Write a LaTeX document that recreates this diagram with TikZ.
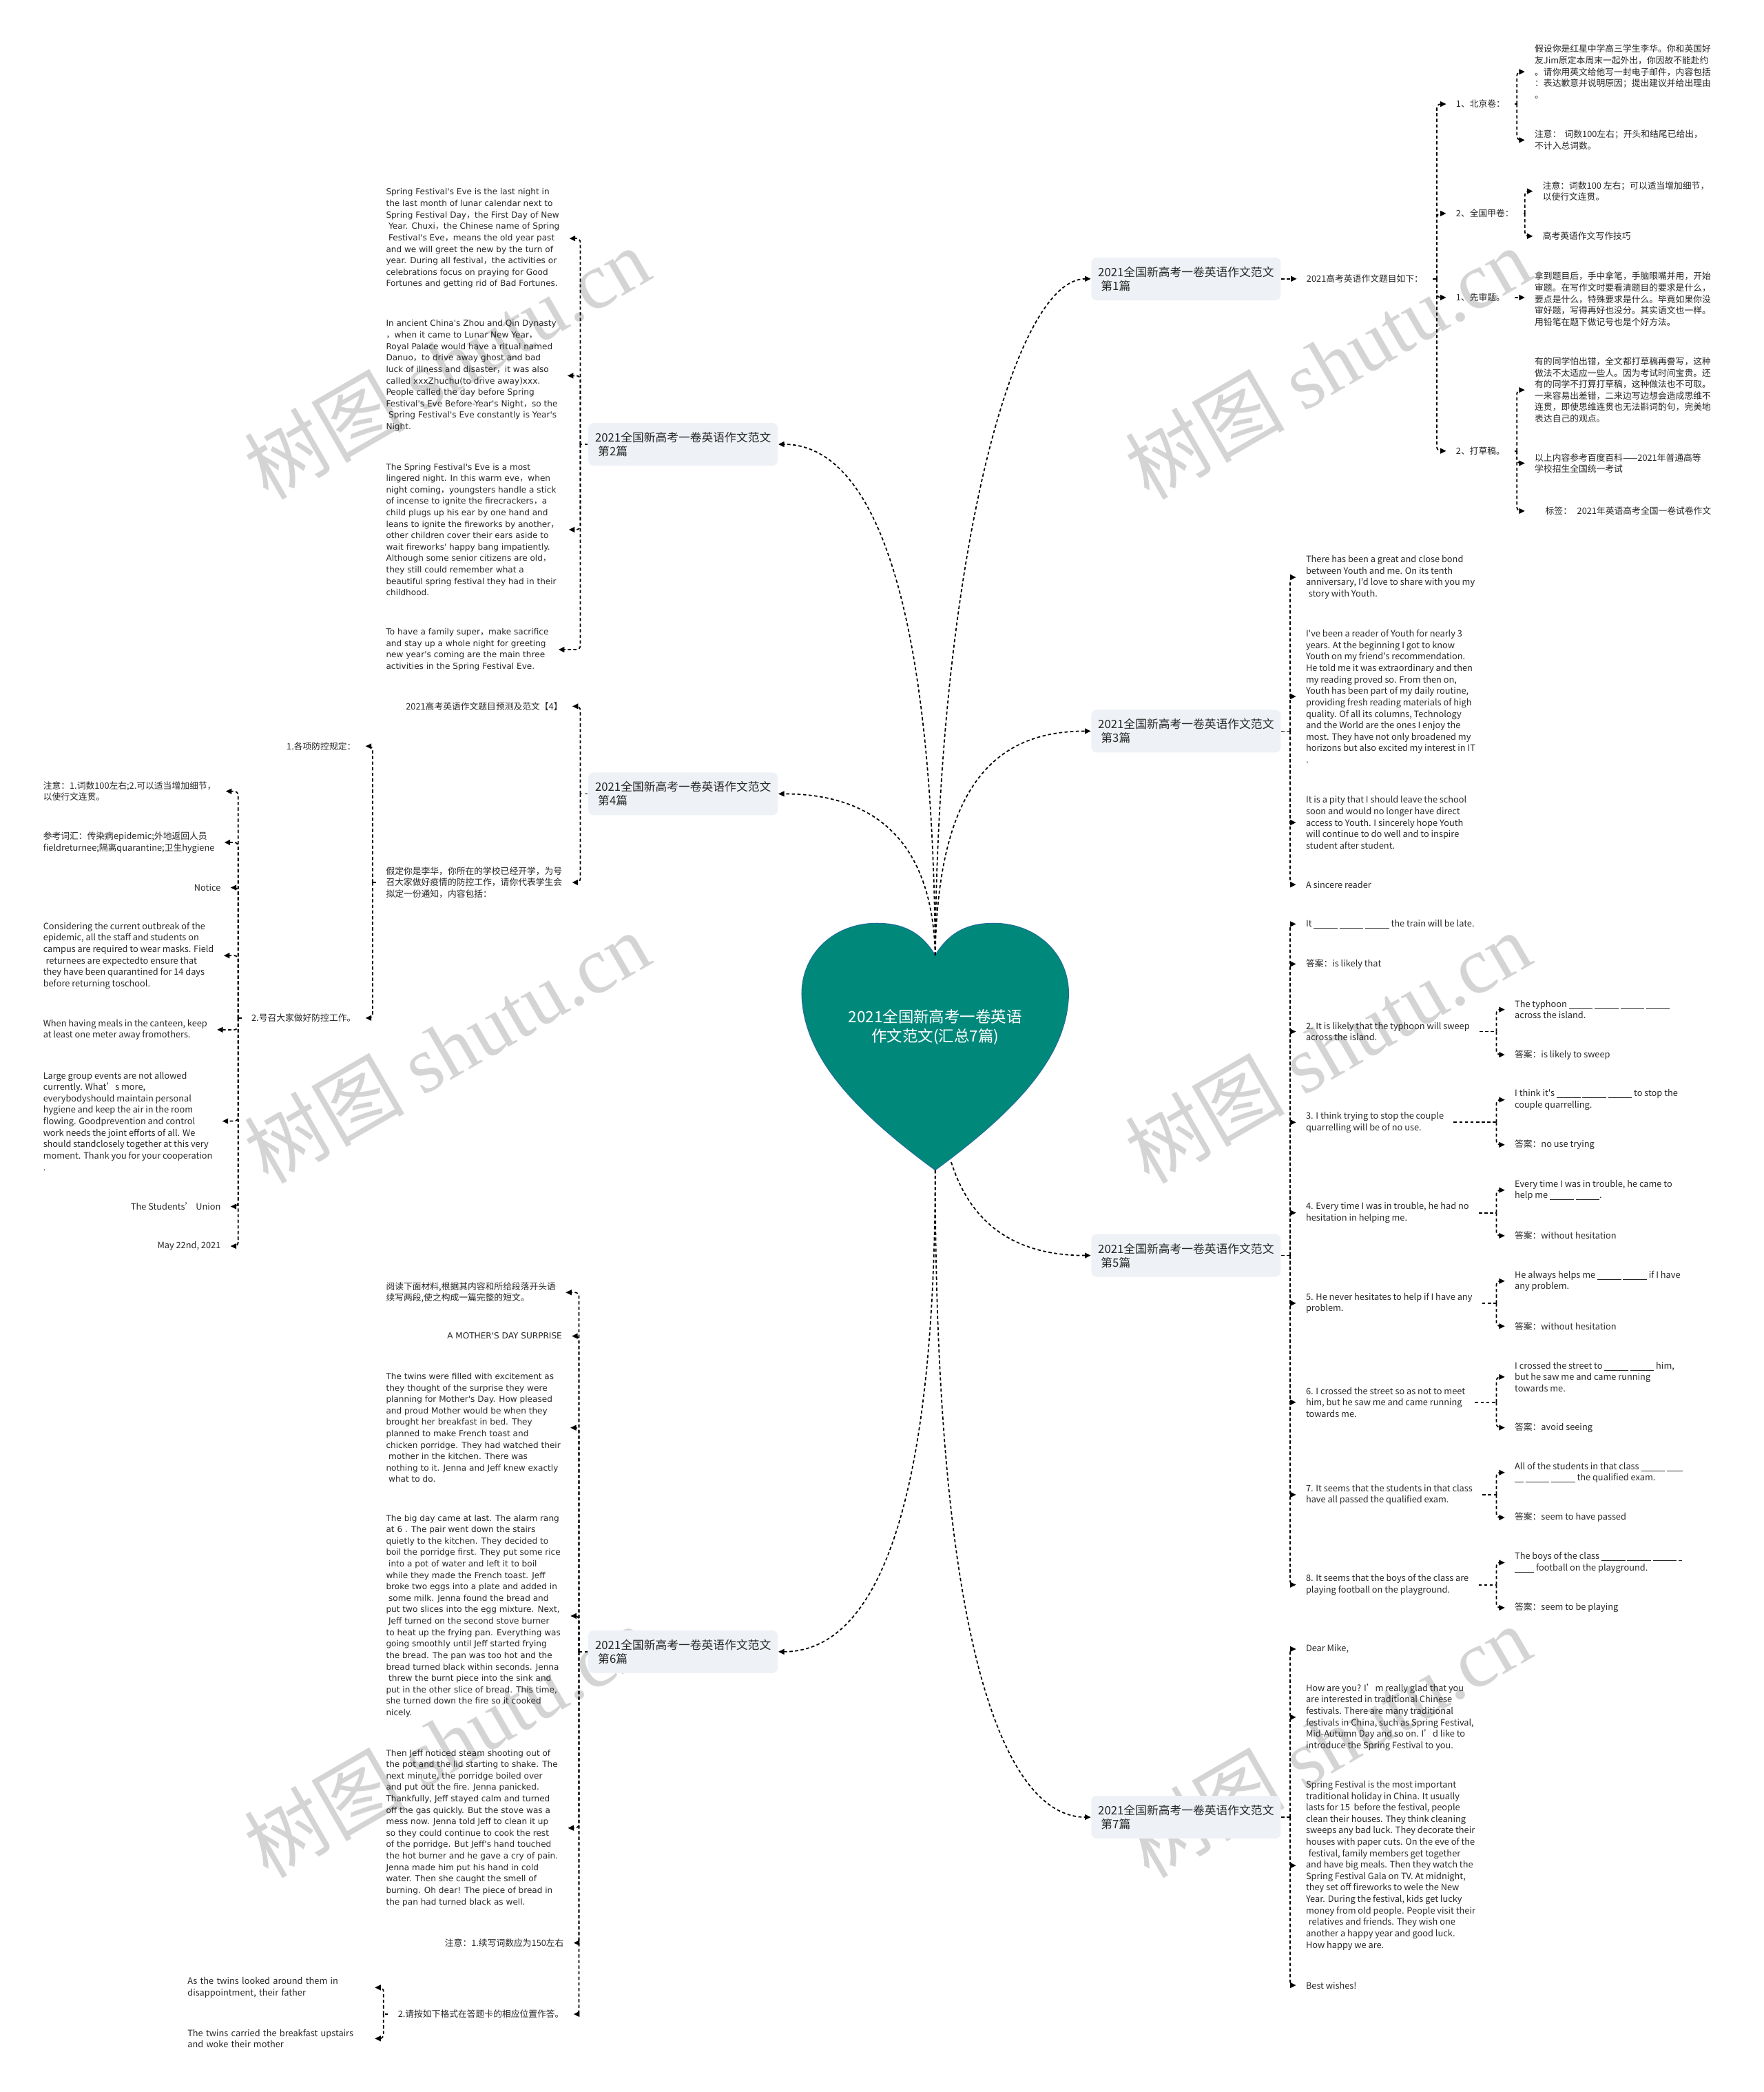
\documentclass[tikz,border=0pt]{standalone}
\usepackage{fontspec}
\setmainfont{Noto Sans CJK SC}[Ligatures=TeXOff]
\newfontfamily\cjkf{Noto Sans CJK SC}[Ligatures=TeXOff]
\newfontfamily\dvsans{DejaVu Sans}[Ligatures=TeXOff]
\newfontfamily\wmserif{Liberation Serif}
\usetikzlibrary{arrows.meta}

\definecolor{boxgray}{RGB}{238,241,245}
\definecolor{heartteal}{RGB}{0,137,123}
\definecolor{heartedge}{RGB}{30,110,150}
\definecolor{inkgray}{RGB}{38,38,38}
\definecolor{wmgray}{RGB}{212,212,212}

\newcommand\fillgap[1][2.7em]{\rule[-0.3ex]{#1}{0.08ex}}
\newcommand\zc{{\cjkf ，}}
\newcommand\ind{\hspace*{0.3em}}

% parent -> brace line at x = #2 -> every child
\newcommand\rfork[3]{%
  \draw[connstub] (#1.east) -- (#2,0 |- #1.east) coordinate (#1-j);
  \foreach \ch in {#3}{\draw[conn,rounded corners=1.5pt] (#1-j) |- (\ch.west);}
}
\newcommand\lfork[3]{%
  \draw[connstub] (#1.west) -- (#2,0 |- #1.west) coordinate (#1-j);
  \foreach \ch in {#3}{\draw[conn,rounded corners=1.5pt] (#1-j) |- (\ch.east);}
}

\begin{document}
\begin{tikzpicture}[x=0.5pt,y=-0.5pt,
  conn/.style={line width=0.45pt,dash pattern=on 1.2pt off 0.9pt,-{Triangle[length=2.2pt,width=2pt]}},
  connstub/.style={line width=0.45pt,dash pattern=on 1.2pt off 0.9pt},
  topic/.style={fill=boxgray,rounded corners=2pt,minimum width=71pt,minimum height=16pt,inner sep=0pt,align=left,text=inkgray,font=\fontsize{4.33}{5.16}\selectfont},
  leaf/.style={inner xsep=3.5pt,inner ysep=0.8pt,align=left,text=inkgray,font=\fontsize{3.3}{4.29}\selectfont},
  dleaf/.style={leaf,font=\dvsans\fontsize{3.12}{4.29}\selectfont},
  wmark/.style={text=wmgray,rotate=30,font=\fontsize{30}{30}\selectfont},
  heartfill/.style={fill=heartteal,draw=heartedge,line width=0.3pt},
  roottext/.style={text=white,align=center,font=\fontsize{5.8}{7.35}\selectfont}]
\useasboundingbox (0,0) rectangle (1322,1568);

% watermarks
\foreach \wx/\wy in {335/272,995/272,335/785,995/785,335/1305,995/1305}
  \node[wmark] (wm-\wx-\wy) at (\wx,\wy) {树图 {\wmserif shutu.cn}};

% central heart
\filldraw[heartfill] (701,716) .. controls (712,698) and (726,692) .. (745,692)
  .. controls (776,692) and (801,714) .. (801,745)
  .. controls (800,790) and (765,830) .. (701,877)
  .. controls (637,830) and (602,790) .. (601,745)
  .. controls (601,714) and (626,692) .. (657,692)
  .. controls (676,692) and (690,698) .. (701,716) -- cycle;
\node[roottext] (root) at (701,770) {2021全国新高考一卷英语\\作文范文(汇总7篇)};
\coordinate (ht) at (701,716);
\coordinate (hb) at (701,877);
\coordinate (hbr) at (713,871);

% topics
\node[topic] (b1) at (889,209) {2021全国新高考一卷英语作文范文\\\hspace*{0.25em}第1篇};
\node[topic] (b2) at (512,333) {2021全国新高考一卷英语作文范文\\\hspace*{0.25em}第2篇};
\node[topic] (b3) at (889,548) {2021全国新高考一卷英语作文范文\\\hspace*{0.25em}第3篇};
\node[topic] (b4) at (512,595) {2021全国新高考一卷英语作文范文\\\hspace*{0.25em}第4篇};
\node[topic] (b5) at (889,941) {2021全国新高考一卷英语作文范文\\\hspace*{0.25em}第5篇};
\node[topic] (b6) at (512,1238) {2021全国新高考一卷英语作文范文\\\hspace*{0.25em}第6篇};
\node[topic] (b7) at (889,1362) {2021全国新高考一卷英语作文范文\\\hspace*{0.25em}第7篇};

\draw[conn] (ht) .. controls (703,420) and (760,209) .. (b1.west);
\draw[conn] (ht) .. controls (699,420) and (645,333) .. (b2.east);
\draw[conn] (ht) .. controls (703,590) and (745,548) .. (b3.west);
\draw[conn] (ht) .. controls (699,630) and (655,595) .. (b4.east);
\draw[conn] (hbr) .. controls (730,925) and (770,941) .. (b5.west);
\draw[conn] (hb) .. controls (701,1150) and (650,1238) .. (b6.east);
\draw[conn] (hb) .. controls (701,1260) and (760,1362) .. (b7.west);

% ---- 第1篇
\node[leaf,anchor=west] (b1t) at (972,209) {2021高考英语作文题目如下：};
\node[leaf,anchor=west] (b1a) at (1084,78) {1、北京卷：};
\node[leaf,anchor=west] (b1b) at (1084,160) {2、全国甲卷：};
\node[leaf,anchor=west] (b1c) at (1084,223) {1、先审题。};
\node[leaf,anchor=west] (b1d) at (1084,338) {2、打草稿。};
\node[leaf,anchor=west] (b1a1) at (1143,53.8) {假设你是红星中学高三学生李华。你和英国好\\友Jim原定本周末一起外出，你因故不能赴约\\。请你用英文给他写一封电子邮件，内容包括\\：表达歉意并说明原因；提出建议并给出理由\\。};
\node[leaf,anchor=west] (b1a2) at (1143,105) {注意：\hspace{0.4em}词数100左右；开头和结尾已给出，\\不计入总词数。};
\node[leaf,anchor=west] (b1b1) at (1149,143.3) {注意：词数100 左右；可以适当增加细节，\\以使行文连贯。};
\node[leaf,anchor=west] (b1b2) at (1149,177) {高考英语作文写作技巧};
\node[leaf,anchor=west] (b1c1) at (1143,224.2) {拿到题目后，手中拿笔，手脑眼嘴并用，开始\\审题。在写作文时要看清题目的要求是什么，\\要点是什么，特殊要求是什么。毕竟如果你没\\审好题，写得再好也没分。其实语文也一样。\\用铅笔在题下做记号也是个好方法。};
\node[leaf,anchor=west] (b1d1) at (1143,292.3) {有的同学怕出错，全文都打草稿再誊写，这种\\做法不太适应一些人。因为考试时间宝贵。还\\有的同学不打算打草稿，这种做法也不可取。\\一来容易出差错，二来边写边想会造成思维不\\连贯，即使思维连贯也无法斟词酌句，完美地\\表达自己的观点。};
\node[leaf,anchor=west] (b1d2) at (1143,347.2) {以上内容参考百度百科——2021年普通高等\\学校招生全国统一考试};
\node[leaf,anchor=west] (b1d3) at (1143,383) {\hspace*{4pt}标签：\hspace{0.6em}2021年英语高考全国一卷试卷作文};

\draw[conn] (b1.east) -- (b1t.west);
\rfork{b1t}{1077}{b1a,b1b,b1c,b1d}
\rfork{b1a}{1137}{b1a1,b1a2}
\rfork{b1b}{1143}{b1b1,b1b2}
\draw[conn] (b1c.east) -- (b1c.east -| b1c1.west);
\rfork{b1d}{1137}{b1d1,b1d2,b1d3}

% ---- 第3篇
\node[leaf,anchor=west] (b3a) at (971.5,432.7) {There has been a great and close bond\\between Youth and me. On its tenth\\anniversary, I'd love to share with you my\\\ind story with Youth.};
\node[leaf,anchor=west] (b3b) at (971.5,522) {I've been a reader of Youth for nearly 3\\years. At the beginning I got to know\\Youth on my friend's recommendation.\\He told me it was extraordinary and then\\my reading proved so. From then on,\\Youth has been part of my daily routine,\\providing fresh reading materials of high\\quality. Of all its columns, Technology\\and the World are the ones I enjoy the\\most. They have not only broadened my\\horizons but also excited my interest in IT\\.};
\node[leaf,anchor=west] (b3c) at (971.5,616.5) {It is a pity that I should leave the school\\soon and would no longer have direct\\access to Youth. I sincerely hope Youth\\will continue to do well and to inspire\\student after student.};
\node[leaf,anchor=west] (b3d) at (971.5,663) {A sincere reader};
\rfork{b3}{967}{b3a,b3b,b3c,b3d}

% ---- 第5篇
\node[leaf,anchor=west] (b5a) at (971.5,692.6) {It~\fillgap~\fillgap~\fillgap~the train will be late.};
\node[leaf,anchor=west] (b5b) at (971.5,722.5) {答案：is likely that};
\node[leaf,anchor=west] (b5c) at (971.5,773.2) {2. It is likely that the typhoon will sweep\\across the island.};
\node[leaf,anchor=west] (b5d) at (971.5,841.2) {3. I think trying to stop the couple\\quarrelling will be of no use.};
\node[leaf,anchor=west] (b5e) at (971.5,909) {4. Every time I was in trouble, he had no\\hesitation in helping me.};
\node[leaf,anchor=west] (b5f) at (971.5,976.8) {5. He never hesitates to help if I have any\\problem.};
\node[leaf,anchor=west] (b5g) at (971.5,1051) {6. I crossed the street so as not to meet\\him, but he saw me and came running\\towards me.};
\node[leaf,anchor=west] (b5h) at (971.5,1120.3) {7. It seems that the students in that class\\have all passed the qualified exam.};
\node[leaf,anchor=west] (b5i) at (971.5,1187.8) {8. It seems that the boys of the class are\\playing football on the playground.};
\node[leaf,anchor=west] (b5c1) at (1128,756.7) {The typhoon~\fillgap~\fillgap~\fillgap~\fillgap\\across the island.};
\node[leaf,anchor=west] (b5c2) at (1128,790.5) {答案：is likely to sweep};
\node[leaf,anchor=west] (b5d1) at (1128,824.3) {I think it's~\fillgap~\fillgap~\fillgap~to stop the\\couple quarrelling.};
\node[leaf,anchor=west] (b5d2) at (1128,858) {答案：no use trying};
\node[leaf,anchor=west] (b5e1) at (1128,892) {Every time I was in trouble, he came to\\help me~\fillgap~\fillgap.};
\node[leaf,anchor=west] (b5e2) at (1128,926.2) {答案：without hesitation};
\node[leaf,anchor=west] (b5f1) at (1128,960.2) {He always helps me~\fillgap~\fillgap~if I have\\any problem.};
\node[leaf,anchor=west] (b5f2) at (1128,994) {答案：without hesitation};
\node[leaf,anchor=west] (b5g1) at (1128,1032) {I crossed the street to~\fillgap~\fillgap~him,\\but he saw me and came running\\towards me.};
\node[leaf,anchor=west] (b5g2) at (1128,1070) {答案：avoid seeing};
\node[leaf,anchor=west] (b5h1) at (1128,1103.7) {All of the students in that class~\fillgap~\fillgap[1.8em]\\\fillgap[1em]~\fillgap~\fillgap~the qualified exam.};
\node[leaf,anchor=west] (b5h2) at (1128,1137.4) {答案：seem to have passed};
\node[leaf,anchor=west] (b5i1) at (1128,1171.2) {The boys of the class~\fillgap~\fillgap~\fillgap~\fillgap[0.4em]\\\fillgap[2.2em]~football on the playground.};
\node[leaf,anchor=west] (b5i2) at (1128,1205) {答案：seem to be playing};
\rfork{b5}{967}{b5a,b5b,b5c,b5d,b5e,b5f,b5g,b5h,b5i}
\foreach \q in {c,d,e,f,g,h,i}{\rfork{b5\q}{1121.6}{b5\q1,b5\q2}}

% ---- 第7篇
\node[leaf,anchor=west] (b7a) at (971.5,1236) {Dear Mike,};
\node[leaf,anchor=west] (b7b) at (971.5,1287.1) {How are you? I’m really glad that you\\are interested in traditional Chinese\\festivals. There are many traditional\\festivals in China, such as Spring Festival,\\Mid-Autumn Day and so on. I’d like to\\introduce the Spring Festival to you.};
\node[leaf,anchor=west] (b7c) at (971.5,1398.2) {Spring Festival is the most important\\traditional holiday in China. It usually\\lasts for 15~ before the festival, people\\clean their houses. They think cleaning\\sweeps any bad luck. They decorate their\\houses with paper cuts. On the eve of the\\\ind festival, family members get together\\and have big meals. Then they watch the\\Spring Festival Gala on TV. At midnight,\\they set off fireworks to wele the New\\Year. During the festival, kids get lucky\\money from old people. People visit their\\\ind relatives and friends. They wish one\\another a happy year and good luck.\\How happy we are.};
\node[leaf,anchor=west] (b7d) at (971.5,1488) {Best wishes!};
\rfork{b7}{967}{b7a,b7b,b7c,b7d}

% ---- 第2篇
\node[dleaf,anchor=west] (b2a) at (282,178.7) {Spring Festival's Eve is the last night in\\the last month of lunar calendar next to\\Spring Festival Day\zc the First Day of New\\\ind Year. Chuxi\zc the Chinese name of Spring\\\ind Festival's Eve\zc means the old year past\\and we will greet the new by the turn of\\year. During all festival\zc the activities or\\celebrations focus on praying for Good\\Fortunes and getting rid of Bad Fortunes.};
\node[dleaf,anchor=west] (b2b) at (282,281.6) {In ancient China's Zhou and Qin Dynasty\\\zc when it came to Lunar New Year\zc\\Royal Palace would have a ritual named\\Danuo\zc to drive away ghost and bad\\luck of illness and disaster\zc it was also\\called xxxZhuchu(to drive away)xxx.\\People called the day before Spring\\Festival's Eve Before-Year's Night\zc so the\\\ind Spring Festival's Eve constantly is Year's\\Night.};
\node[dleaf,anchor=west] (b2c) at (282,397) {The Spring Festival's Eve is a most\\lingered night. In this warm eve\zc when\\night coming\zc youngsters handle a stick\\of incense to ignite the firecrackers\zc a\\child plugs up his ear by one hand and\\leans to ignite the fireworks by another\zc\\other children cover their ears aside to\\wait fireworks' happy bang impatiently.\\Although some senior citizens are old\zc\\they still could remember what a\\beautiful spring festival they had in their\\childhood.};
\node[dleaf,anchor=west] (b2d) at (282,486.9) {To have a family super\zc make sacrifice\\and stay up a whole night for greeting\\new year's coming are the main three\\activities in the Spring Festival Eve.};
\lfork{b2}{435}{b2a,b2b,b2c,b2d}

% ---- 第4篇
\node[leaf,anchor=east] (b4a) at (429,529.4) {2021高考英语作文题目预测及范文【4】};
\node[leaf,anchor=west] (b4b) at (282,661.4) {假定你是李华，你所在的学校已经开学，为号\\召大家做好疫情的防控工作，请你代表学生会\\拟定一份通知，内容包括：};
\node[leaf,anchor=east] (b4b1) at (274,559.3) {1.各项防控规定：};
\node[leaf,anchor=east] (b4b2) at (274,763) {2.号召大家做好防控工作。};
\node[leaf,anchor=west] (b4c1) at (25,593.1) {注意：1.词数100左右;2.可以适当增加细节，\\以使行文连贯。};
\node[leaf,anchor=west] (b4c2) at (25,631.4) {参考词汇：传染病epidemic;外地返回人员\\fieldreturnee;隔离quarantine;卫生hygiene};
\node[leaf,anchor=east] (b4c3) at (172.8,665.3) {Notice};
\node[leaf,anchor=west] (b4c4) at (25,716.2) {Considering the current outbreak of the\\epidemic, all the staff and students on\\campus are required to wear masks. Field\\\ind returnees are expectedto ensure that\\they have been quarantined for 14 days\\before returning toschool.};
\node[leaf,anchor=west] (b4c5) at (25,771.8) {When having meals in the canteen, keep\\at least one meter away fromothers.};
\node[leaf,anchor=west] (b4c6) at (25,840.3) {Large group events are not allowed\\currently. What’s more,\\everybodyshould maintain personal\\hygiene and keep the air in the room\\flowing. Goodprevention and control\\work needs the joint efforts of all. We\\should standclosely together at this very\\moment. Thank you for your cooperation\\.};
\node[leaf,anchor=east] (b4c7) at (172.8,904.3) {The Students’ Union};
\node[leaf,anchor=east] (b4c8) at (172.8,934) {May 22nd, 2021};
\lfork{b4}{435}{b4a,b4b}
\lfork{b4b}{279.3}{b4b1,b4b2}
\lfork{b4b2}{178.5}{b4c1,b4c2,b4c3,b4c4,b4c5,b4c6,b4c7,b4c8}

% ---- 第6篇
\node[leaf,anchor=west] (b6a) at (282,968.7) {阅读下面材料,根据其内容和所给段落开头语\\续写两段,使之构成一篇完整的短文。};
\node[dleaf,anchor=east] (b6b) at (428.6,1001.4) {A MOTHER'S DAY SURPRISE};
\node[dleaf,anchor=west] (b6c) at (282,1070.1) {The twins were filled with excitement as\\they thought of the surprise they were\\planning for Mother's Day. How pleased\\and proud Mother would be when they\\brought her breakfast in bed. They\\planned to make French toast and\\chicken porridge. They had watched their\\\ind mother in the kitchen. There was\\nothing to it. Jenna and Jeff knew exactly\\\ind what to do.};
\node[dleaf,anchor=west] (b6d) at (282,1211.2) {The big day came at last. The alarm rang\\at 6 . The pair went down the stairs\\quietly to the kitchen. They decided to\\boil the porridge first. They put some rice\\\ind into a pot of water and left it to boil\\while they made the French toast. Jeff\\broke two eggs into a plate and added in\\\ind some milk. Jenna found the bread and\\put two slices into the egg mixture. Next,\\\ind Jeff turned on the second stove burner\\to heat up the frying pan. Everything was\\going smoothly until Jeff started frying\\the bread. The pan was too hot and the\\bread turned black within seconds. Jenna\\\ind threw the burnt piece into the sink and\\put in the other slice of bread. This time,\\she turned down the fire so it cooked\\nicely.};
\node[dleaf,anchor=west] (b6e) at (282,1370.1) {Then Jeff noticed steam shooting out of\\the pot and the lid starting to shake. The\\next minute, the porridge boiled over\\and put out the fire. Jenna panicked.\\Thankfully, Jeff stayed calm and turned\\off the gas quickly. But the stove was a\\mess now. Jenna told Jeff to clean it up\\so they could continue to cook the rest\\of the porridge. But Jeff's hand touched\\the hot burner and he gave a cry of pain.\\Jenna made him put his hand in cold\\water. Then she caught the smell of\\burning. Oh dear! The piece of bread in\\the pan had turned black as well.};
\node[leaf,anchor=east] (b6f) at (430,1456.2) {注意：1.续写词数应为150左右};
\node[leaf,anchor=east] (b6g) at (430,1509.6) {2.请按如下格式在答题卡的相应位置作答。};
\node[leaf,anchor=east,text width=66.5pt] (b6g1) at (281,1489.7) {As the twins looked around them in\\disappointment, their father};
\node[leaf,anchor=east,text width=66.5pt] (b6g2) at (281,1527.9) {The twins carried the breakfast upstairs\\and woke their mother};
\lfork{b6}{434}{b6a,b6b,b6c,b6d,b6e,b6f,b6g}
\lfork{b6g}{287.5}{b6g1,b6g2}

\end{tikzpicture}
\end{document}
